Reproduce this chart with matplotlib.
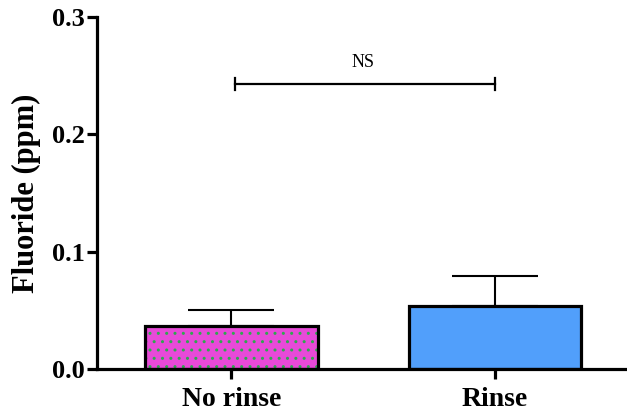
import matplotlib.pyplot as plt

groups = ["No rinse", "Rinse"]
means = [0.037, 0.054]
sds = [0.013, 0.025]
fills = ["#E84AD8", "#519FFB"]
ns_y = 0.243

plt.rcParams['font.family'] = ['Liberation Serif', 'DejaVu Serif']

fig = plt.figure(figsize=(6.27, 4.12), dpi=100)
ax = fig.add_axes([0.155, 0.104, 0.845, 0.855])

x = list(range(len(groups)))
w = 0.655

# dotted fill on the first bar, plain on the second
ax.bar(x[0], means[0], width=w, color=fills[0], edgecolor="#2FA84F",
       hatch="..", linewidth=0, zorder=2)
ax.bar(x[1], means[1], width=w, color=fills[1], linewidth=0, zorder=2)
ax.bar(x, means, width=w, fill=False, edgecolor="black", linewidth=2.3,
       zorder=3)

ax.errorbar(x, means, yerr=[[0, 0], sds], fmt="none", ecolor="black",
            elinewidth=1.5, capsize=31, capthick=1.5, zorder=1)

# significance bracket
ax.plot([x[0] + 0.015, x[1]], [ns_y, ns_y], color="black", lw=1.6)
for xi in (x[0] + 0.015, x[1]):
    ax.plot([xi, xi], [ns_y - 0.005, ns_y + 0.005], color="black", lw=1.6)
ax.text((x[0] + x[1]) / 2, ns_y + 0.011, "NS", ha="center", va="bottom",
        fontsize=13)

ax.set_xlim(-0.508, 1.5)
ax.set_ylim(0, 0.3)
ax.set_yticks([0.0, 0.1, 0.2, 0.3])
ax.set_yticklabels(["0.0", "0.1", "0.2", "0.3"])
ax.set_xticks(x)
ax.set_xticklabels(groups)

for s in ("top", "right"):
    ax.spines[s].set_visible(False)
for s in ("left", "bottom"):
    ax.spines[s].set_linewidth(2.3)

ax.tick_params(axis="both", width=2.3, length=7, labelsize=19)
for lab in ax.get_xticklabels() + ax.get_yticklabels():
    lab.set_fontweight("bold")
ax.tick_params(axis="y", pad=2)
ax.tick_params(axis="x", labelsize=20, pad=6)

ax.set_ylabel("Fluoride (ppm)", fontsize=22, fontweight="bold", labelpad=8)

fig.savefig("out.png", dpi=100)
